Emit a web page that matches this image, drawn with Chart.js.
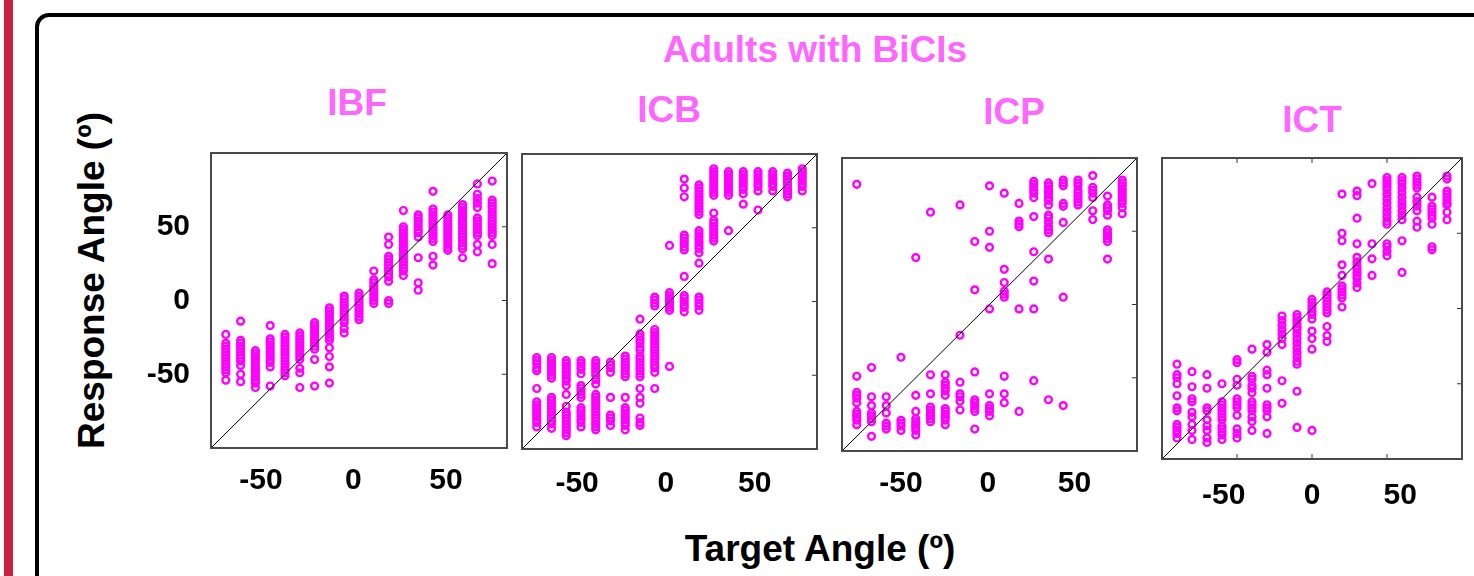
<!DOCTYPE html>
<html>
<head>
<meta charset="utf-8">
<script src="https://cdn.jsdelivr.net/npm/chart.js@4/dist/chart.umd.min.js"></script>
<style>
body { margin:0; width:1474px; height:576px; overflow:hidden; background:#fff; position:relative;
       font-family:'Liberation Sans', Arial, sans-serif; font-weight:bold; }
.abs { position:absolute; white-space:nowrap; }
.big { font-size:37px; line-height:37px; }
.pink { color:#ff66ff; }
.mid { transform:translateX(-50%); }
</style>
</head>
<body>
<div class="abs" style="left:4px;top:0;width:9px;height:576px;background:#c5233f"></div>
<div class="abs" style="left:35px;top:13px;width:1500px;height:700px;border:4px solid #000;border-radius:14px"></div>

<div class="abs big pink mid" style="left:815px;top:31px">Adults with BiCIs</div>
<div class="abs big pink mid" style="left:357px;top:84px">IBF</div>
<div class="abs big pink mid" style="left:669px;top:91px">ICB</div>
<div class="abs big pink mid" style="left:1014px;top:93px">ICP</div>
<div class="abs big pink mid" style="left:1312px;top:101px">ICT</div>
<div class="abs big" style="left:-119px;top:262px;width:420px;text-align:center;transform:rotate(-90deg)">Response Angle (º)</div>
<div class="abs big mid" style="left:820px;top:530px">Target Angle (º)</div>

<script>
// target angles (deg), one column of responses per target
const targets = [-90, -80, -70, -60, -50, -40, -30, -20, -10, 0, 10, 20, 30, 40, 50, 60, 70, 80, 90]
const tickValues = [-50, 0, 50]
const diagonal = [-100, 100]

const ibfResp = [
  [-23, -29, -31, -33, -35, -37, -39, -41, -43, -45, -47, -49, -54],
  [-14, -27, -29, -31, -33, -35, -37, -39, -41, -44, -50, -55],
  [-34, -36, -38, -40, -42, -44, -46, -48, -50, -52, -54, -56, -59],
  [-17, -26, -28, -30, -32, -34, -36, -38, -40, -42, -45, -58],
  [-23, -25, -27, -29, -31, -33, -35, -37, -39, -41, -43, -45, -47, -49, -51],
  [-22, -24, -26, -28, -30, -32, -34, -36, -38, -40, -46, -49, -59],
  [-15, -17, -19, -21, -23, -25, -27, -29, -31, -33, -40, -58],
  [-5, -7, -9, -11, -13, -15, -17, -19, -21, -23, -25, -27, -32, -38, -45, -56],
  [3, 1, -1, -3, -5, -7, -9, -11, -13, -15, -19, -22],
  [5, 3, 1, -1, -3, -5, -7, -9, -11, -13],
  [20, 14, 12, 10, 8, 6, 4, 2, 0, -2],
  [43, 38, 30, 28, 26, 24, 22, 20, 18, 16, 13, 0, -2],
  [61, 50, 48, 46, 44, 42, 40, 38, 36, 34, 32, 30, 28, 26, 24, 22, 20, 17],
  [58, 56, 54, 52, 50, 48, 46, 43, 29, 12, 7],
  [74, 62, 60, 58, 56, 54, 52, 50, 48, 46, 44, 42, 40, 30, 24],
  [58, 56, 54, 52, 50, 48, 46, 44, 42, 40, 38, 36, 34],
  [65, 63, 61, 59, 57, 55, 53, 51, 49, 47, 45, 43, 41, 39, 37, 35, 29],
  [79, 72, 69, 66, 63, 56, 54, 52, 50, 48, 46, 44, 38, 33],
  [81, 68, 66, 64, 62, 60, 58, 56, 54, 52, 50, 48, 46, 44, 38, 25]
]

const icbResp = [
  [-38, -40, -42, -45, -47, -59, -68, -70, -72, -74, -76, -78, -80, -82, -85],
  [-38, -40, -42, -44, -46, -48, -50, -52, -65, -67, -69, -71, -73, -75, -77, -79, -81, -83, -86],
  [-40, -42, -44, -46, -48, -50, -52, -54, -57, -63, -71, -75, -77, -79, -81, -83, -85, -87, -89, -91],
  [-40, -42, -44, -46, -49, -57, -59, -61, -63, -65, -72, -74, -76, -78, -80, -82, -85],
  [-40, -42, -44, -46, -48, -50, -53, -56, -63, -65, -67, -69, -71, -73, -75, -77, -79, -81, -83, -85, -87],
  [-41, -43, -45, -48, -65, -77, -79, -81, -84],
  [-37, -39, -41, -43, -45, -47, -49, -51, -65, -72, -74, -76, -78, -80, -82, -84, -87],
  [-12, -22, -24, -26, -28, -31, -33, -37, -39, -41, -43, -45, -47, -49, -51, -59, -65, -69, -79, -82, -84],
  [3, 1, -1, -3, -19, -21, -23, -25, -27, -29, -31, -33, -35, -37, -39, -41, -43, -45, -48, -59],
  [38, 6, 4, 2, 0, -2, -4, -6, -44],
  [83, 77, 71, 45, 43, 41, 39, 37, 35, 17, 4, 2, 0, -2, -4, -7],
  [79, 77, 75, 73, 71, 69, 67, 65, 63, 61, 59, 48, 46, 44, 42, 40, 38, 36, 33, 26, 3, 1, -1, -3, -6],
  [90, 88, 86, 84, 82, 80, 78, 76, 74, 72, 60, 55, 53, 51, 49, 47, 45, 43, 41],
  [88, 86, 84, 82, 80, 78, 76, 74, 72, 48],
  [88, 86, 84, 82, 80, 78, 76, 73, 66],
  [88, 86, 84, 82, 80, 78, 75, 62],
  [88, 86, 84, 82, 80, 78, 75],
  [87, 85, 83, 81, 79, 77, 75, 73, 71],
  [90, 88, 86, 84, 82, 80, 78, 75]
]

const icpResp = [
  [82, -49, -60, -62, -64, -67, -73, -75, -77, -79, -82],
  [-43, -63, -69, -74, -76, -78, -80, -90],
  [-63, -69, -74, -81, -83, -85],
  [-36, -79, -81, -83, -86],
  [32, -62, -73, -78, -80, -82, -84, -86, -89],
  [63, -48, -61, -70, -72, -74, -76, -78, -80],
  [-48, -53, -55, -57, -59, -62, -71, -73, -75, -77, -79, -82],
  [68, -21, -53, -61, -63, -66, -72],
  [43, 10, -46, -65, -67, -69, -71, -73, -85],
  [81, 50, 39, -3, -61, -69, -71, -73, -76],
  [76, 24, 15, 9, 7, 5, -49, -61, -67],
  [69, 57, 55, 53, -3, -73],
  [84, 82, 80, 78, 76, 73, 60, 36, 16, -3, -52],
  [83, 81, 79, 77, 75, 73, 71, 68, 61, 59, 56, 53, 51, 49, 31, -65],
  [85, 83, 81, 69, 67, 56, 5, -69],
  [85, 83, 81, 78, 76, 74, 72, 70, 68],
  [88, 80, 78, 76, 73, 64, 58],
  [74, 68, 66, 64, 61, 51, 49, 47, 45, 43, 31],
  [85, 83, 81, 79, 77, 75, 73, 71, 69, 66, 62]
]

const ictResp = [
  [-37, -44, -46, -50, -58, -66, -68, -77, -79, -81, -83, -86],
  [-42, -52, -60, -62, -69, -72, -77, -81, -87],
  [-44, -53, -66, -68, -74, -78, -81, -86, -89],
  [-50, -62, -64, -66, -68, -70, -72, -74, -78, -80, -82, -84, -87],
  [-34, -36, -47, -51, -60, -62, -64, -66, -71, -80, -83, -86],
  [-27, -45, -47, -51, -53, -56, -62, -64, -66, -68, -72, -75, -81],
  [-24, -29, -41, -44, -53, -64, -66, -68, -72, -83],
  [-5, -8, -11, -14, -17, -20, -24, -48, -63],
  [-4, -6, -8, -10, -12, -14, -17, -20, -23, -26, -29, -32, -35, -37, -55, -79],
  [6, 4, 2, 0, -2, -4, -7, -15, -20, -27, -81],
  [11, 9, 7, 5, 3, 1, -1, -3, -12, -18, -22],
  [76, 50, 45, 29, 22, 15, 13, 11, 9, 7, 1],
  [78, 75, 60, 43, 34, 31, 28, 26, 24, 22, 20, 17, 14],
  [83, 43, 33, 22],
  [87, 85, 83, 81, 79, 76, 73, 70, 67, 64, 61, 58, 56, 43, 41, 38, 35],
  [87, 85, 83, 80, 77, 74, 71, 68, 65, 62, 59, 45, 24],
  [88, 86, 84, 82, 80, 74, 71, 68, 65, 58, 54],
  [74, 68, 66, 64, 62, 60, 56, 41, 39],
  [88, 86, 78, 76, 74, 72, 70, 69, 64, 59]
]

// layout of each panel: plot box [left, top, width, height] and where its tick labels sit
const panels = [
  { resp: ibfResp, box: [211, 153, 296, 295], labelRange: [-77, 83], labelPad: 7, showY: true, allTicks: false },
  { resp: icbResp, box: [522, 154, 295, 295], labelRange: [-81, 85], labelPad: 9, showY: false, allTicks: false },
  { resp: icpResp, box: [842, 158, 295, 293], labelRange: [-84, 86], labelPad: 7, showY: false, allTicks: false },
  { resp: ictResp, box: [1162, 158, 300, 301], labelRange: [-85, 85], labelPad: 11, showY: false, allTicks: true }
]

const AX = 70, AXB = 60, PT = 10, PR = 10
const tickFont = { family: "'Liberation Sans', Arial, sans-serif", size: 30, weight: 'bold' }

const frame = {
  id: 'frame',
  afterDatasetsDraw(chart, args, opts) {
    const { ctx, chartArea: a, scales } = chart
    ctx.save()
    ctx.strokeStyle = '#333'
    ctx.lineWidth = 1
    ctx.beginPath()
    tickValues.forEach(v => {
      const py = scales.y.getPixelForValue(v)
      ctx.moveTo(a.right, py); ctx.lineTo(a.right - 5, py)
      if (opts.allTicks) {
        const px = scales.x.getPixelForValue(v)
        ctx.moveTo(px, a.top); ctx.lineTo(px, a.top + 5)
        ctx.moveTo(px, a.bottom); ctx.lineTo(px, a.bottom - 5)
      }
    })
    ctx.stroke()
    ctx.strokeStyle = '#4a4a4a'
    ctx.lineWidth = 2
    ctx.strokeRect(a.left, a.top, a.width, a.height)
    ctx.restore()
  }
}

panels.forEach(p => {
  const [left, top, w, h] = p.box
  const cv = document.createElement('canvas')
  cv.width = w + AX + PR
  cv.height = h + PT + AXB
  cv.style.position = 'absolute'
  cv.style.left = (left - AX) + 'px'
  cv.style.top = (top - PT) + 'px'
  document.body.appendChild(cv)

  const points = []
  targets.forEach((t, i) => {
    p.resp[i].forEach(r => points.push({ x: t, y: r }))
  })

  new Chart(cv, {
    type: 'scatter',
    data: {
      datasets: [
        {
          type: 'line',
          data: diagonal.map(v => ({ x: v, y: v })),
          borderColor: '#000',
          borderWidth: 1,
          pointRadius: 0
        },
        {
          data: points,
          pointStyle: 'circle',
          pointRadius: 3.4,
          borderWidth: 2.4,
          borderColor: '#ff00ff',
          backgroundColor: 'rgba(0,0,0,0)'
        }
      ]
    },
    options: {
      responsive: false,
      animation: false,
      devicePixelRatio: 1,
      layout: { padding: { top: PT, right: PR, left: 0, bottom: 0 } },
      plugins: { legend: { display: false }, tooltip: { enabled: false }, frame: { allTicks: p.allTicks } },
      scales: {
        x: { type: 'linear', min: -100, max: 100, display: false },
        xl: {
          type: 'linear',
          position: 'bottom',
          min: p.labelRange[0],
          max: p.labelRange[1],
          grid: { display: false },
          border: { display: false },
          ticks: { color: '#000', font: tickFont, padding: p.labelPad, maxRotation: 0 },
          afterBuildTicks: s => { s.ticks = tickValues.map(v => ({ value: v })) },
          afterFit: s => { s.height = AXB; s.paddingLeft = 0; s.paddingRight = 0 }
        },
        y: {
          type: 'linear',
          min: -100,
          max: 100,
          grid: { display: false },
          border: { display: false },
          ticks: { display: p.showY, color: '#000', font: tickFont, padding: 13 },
          afterBuildTicks: s => { s.ticks = tickValues.map(v => ({ value: v })) },
          afterFit: s => { s.width = AX; s.paddingTop = 0; s.paddingBottom = 0 }
        }
      }
    },
    plugins: [frame]
  })
})
</script>
</body>
</html>
